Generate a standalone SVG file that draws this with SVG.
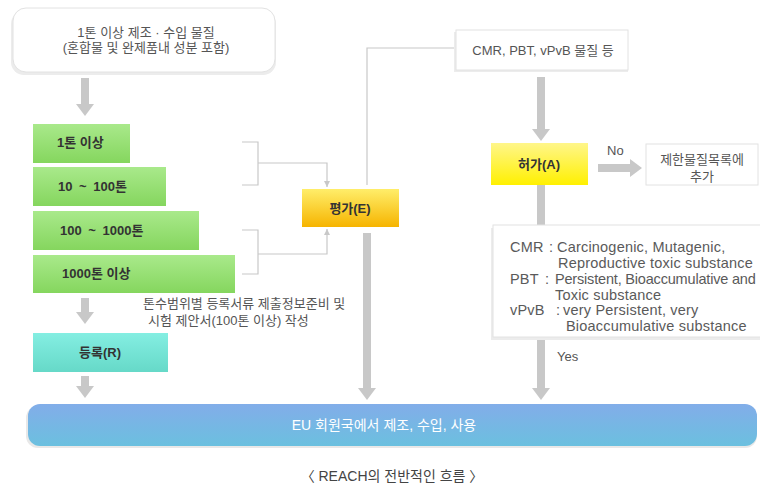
<svg xmlns="http://www.w3.org/2000/svg" width="760" height="488" viewBox="0 0 760 488">
<style>
text{font-family:"Liberation Sans","Noto Sans CJK KR",sans-serif;}
.t{font-size:13px;fill:#555;}
.lbl{font-size:13px;fill:#333;font-weight:bold;}
.def{font-size:14.5px;fill:#5a5a5a;letter-spacing:0.2px;}
.wbox{fill:#fff;stroke:#e2e2e2;stroke-width:1;}
.shadow{fill:#ececec;}
.thick{stroke:#c8c8c8;stroke-width:8;fill:none;}
.thin{stroke:#c8c8c8;stroke-width:1.2;fill:none;}
</style>
<defs>
<linearGradient id="gGreen" x1="0" y1="0" x2="0" y2="1"><stop offset="0" stop-color="#a9e98b"/><stop offset="1" stop-color="#85d65e"/></linearGradient>
<linearGradient id="gOrange" x1="0" y1="0" x2="0" y2="1"><stop offset="0" stop-color="#ffee6a"/><stop offset="1" stop-color="#f6b400"/></linearGradient>
<linearGradient id="gYellow" x1="0" y1="0" x2="0" y2="1"><stop offset="0" stop-color="#fff68a"/><stop offset="1" stop-color="#fff000"/></linearGradient>
<linearGradient id="gCyan" x1="0" y1="0" x2="0" y2="1"><stop offset="0" stop-color="#84eee2"/><stop offset="1" stop-color="#66d9c8"/></linearGradient>
<linearGradient id="gBlue" x1="0" y1="0" x2="0" y2="1"><stop offset="0" stop-color="#82ade9"/><stop offset="1" stop-color="#6bc0df"/></linearGradient>
<marker id="big" viewBox="0 0 12 18" refX="0" refY="9" markerWidth="12" markerHeight="18" markerUnits="userSpaceOnUse" orient="auto"><path d="M0,0 L12,9 L0,18 z" fill="#c8c8c8"/></marker>
<marker id="small" viewBox="0 0 6 6" refX="6" refY="3" markerWidth="6" markerHeight="6" markerUnits="userSpaceOnUse" orient="auto"><path d="M0,0 L6,3 L0,6 z" fill="#c8c8c8"/></marker>
</defs>

<g id="connectors">
<path class="thick" d="M85,78 V104" marker-end="url(#big)"/>
<path class="thick" d="M85,298 V312" marker-end="url(#big)"/>
<path class="thick" d="M85,376 V386" marker-end="url(#big)"/>
<path class="thick" d="M367,233 V388" marker-end="url(#big)"/>
<path class="thick" d="M541,77 V129" marker-end="url(#big)"/>
<path class="thick" d="M541,185 V226"/>
<path class="thick" d="M541,337 V388" marker-end="url(#big)"/>
<path class="thick" d="M598,168 H630" marker-end="url(#big)"/>
<path class="thin" d="M242,142 H258 V185 H242"/>
<path class="thin" d="M258,163 H327 V187" marker-end="url(#small)"/>
<path class="thin" d="M242,230 H258 V274 H242"/>
<path class="thin" d="M258,254 H327 V229" marker-end="url(#small)"/>
<path class="thin" d="M367,185 V48 H456"/>
<text class="t" x="607" y="155">No</text>
<text class="t" x="557" y="361">Yes</text>
</g>

<g id="n-start">
<rect class="shadow" x="11" y="11" width="265" height="64" rx="13"/>
<rect class="wbox" x="13" y="8" width="262" height="64" rx="13"/>
<text class="t" x="146" y="37" text-anchor="middle" font-size="14">1톤 이상 제조 · 수입 물질</text>
<text class="t" x="146" y="52" text-anchor="middle" font-size="14">(혼합물 및 완제품내 성분 포함)</text>
</g>

<g id="n-1t">
<rect x="33" y="124" width="97" height="39" fill="url(#gGreen)"/>
<text class="lbl" x="57" y="147">1톤 이상</text>
</g>
<g id="n-10t">
<rect x="33" y="167" width="133" height="39" fill="url(#gGreen)"/>
<text class="lbl" x="58" y="191" word-spacing="3">10 ~ 100톤</text>
</g>
<g id="n-100t">
<rect x="33" y="211" width="166" height="39" fill="url(#gGreen)"/>
<text class="lbl" x="60" y="235" word-spacing="3">100 ~ 1000톤</text>
</g>
<g id="n-1000t">
<rect x="33" y="255" width="202" height="38" fill="url(#gGreen)"/>
<text class="lbl" x="62" y="278">1000톤 이상</text>
</g>

<g id="n-note">
<text class="t" x="143" y="308" font-size="13.8">톤수범위별 등록서류 제출정보준비 및</text>
<text class="t" x="148" y="325" font-size="13.8">시험 제안서(100톤 이상) 작성</text>
</g>

<g id="n-reg">
<rect x="33" y="333" width="135" height="39" fill="url(#gCyan)"/>
<text class="lbl" x="100" y="357" text-anchor="middle">등록(R)</text>
</g>

<g id="n-eval">
<rect x="302" y="189" width="97" height="38" fill="url(#gOrange)"/>
<text class="lbl" x="350" y="213" text-anchor="middle">평가(E)</text>
</g>

<g id="n-cmr">
<rect class="shadow" x="454" y="32" width="174" height="40"/>
<rect class="wbox" x="456" y="30" width="172" height="40"/>
<text class="t" x="543" y="55" text-anchor="middle" font-size="13.8">CMR, PBT, vPvB 물질 등</text>
</g>

<g id="n-auth">
<rect x="491" y="143" width="97" height="42" fill="url(#gYellow)"/>
<text class="lbl" x="539" y="169" text-anchor="middle">허가(A)</text>
</g>

<g id="n-restrict">
<rect class="wbox" x="646" y="144" width="112" height="41"/>
<text class="t" x="702" y="164" text-anchor="middle">제한물질목록에</text>
<text class="t" x="702" y="181" text-anchor="middle">추가</text>
</g>

<g id="n-defs">
<rect class="shadow" x="491" y="228" width="272" height="112"/>
<rect class="wbox" x="493" y="225" width="270" height="112"/>
<text class="def" x="510" y="252">CMR</text><text class="def" x="549" y="252">:</text><text class="def" x="557" y="252">Carcinogenic, Mutagenic,</text>
<text class="def" x="558" y="268">Reproductive toxic substance</text>
<text class="def" x="510" y="284">PBT</text><text class="def" x="545" y="284">:</text><text class="def" x="555" y="284" textLength="201" lengthAdjust="spacing">Persistent, Bioaccumulative and</text>
<text class="def" x="555" y="300">Toxic substance</text>
<text class="def" x="510" y="315">vPvB</text><text class="def" x="556" y="315">:</text><text class="def" x="563" y="315">very Persistent, very</text>
<text class="def" x="566" y="331">Bioaccumulative substance</text>
</g>

<g id="n-eu">
<rect x="26" y="406" width="731" height="42" rx="12" fill="#e8e8e8"/>
<rect x="28" y="404" width="729" height="42" rx="12" fill="url(#gBlue)"/>
<text x="384" y="430" text-anchor="middle" font-size="14" fill="#fff">EU 회원국에서 제조, 수입, 사용</text>
</g>

<text x="392" y="481" text-anchor="middle" font-size="14" fill="#444">〈 REACH의 전반적인 흐름 〉</text>
</svg>
